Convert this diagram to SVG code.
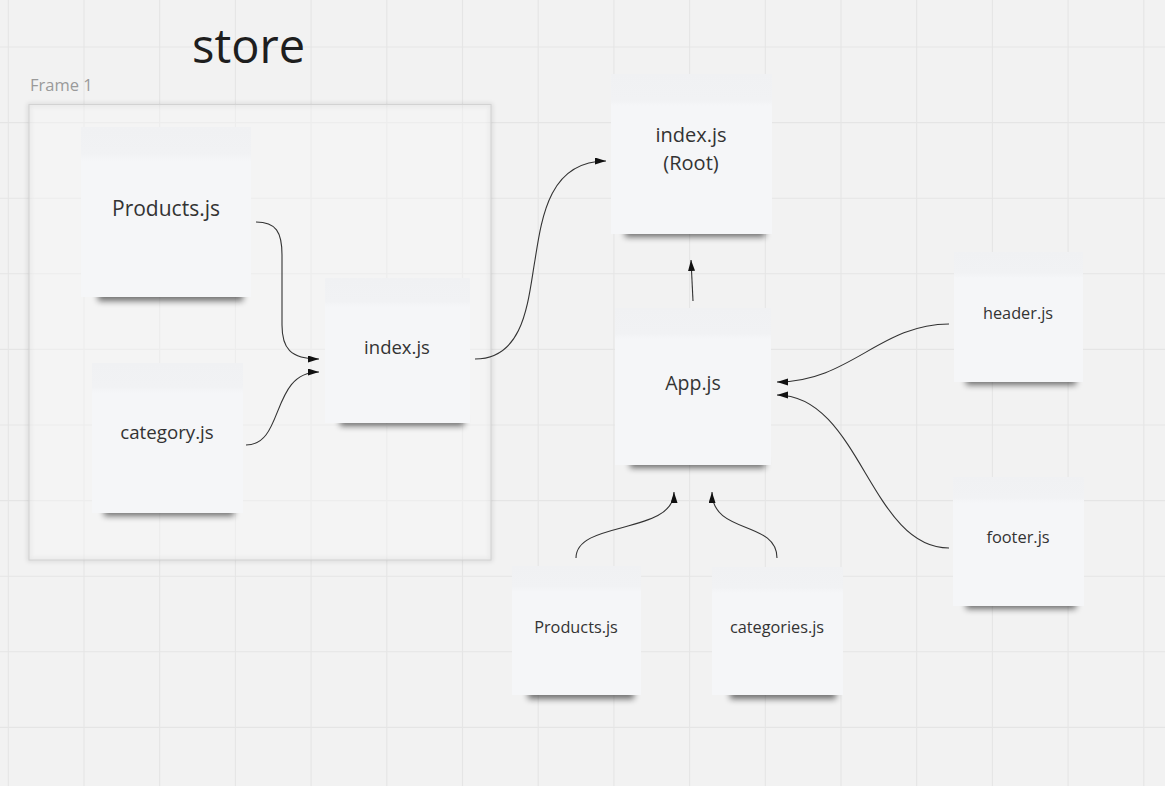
<svg xmlns="http://www.w3.org/2000/svg" width="1165" height="786" viewBox="0 0 1165 786">
<style>
.note{fill:url(#noteGrad)}
.shadow{fill:#000;opacity:.55;filter:url(#blur)}
.lbl{font-family:"Open Sans","Liberation Sans",sans-serif;fill:#333;text-anchor:middle}
.conn{fill:none;stroke:#333;stroke-width:1.1;marker-end:url(#arr)}
.grid{fill:none;stroke:#e5e5e5;stroke-width:1.1}
</style>
<defs>
<linearGradient id="noteGrad" x1="0" y1="0" x2="0" y2="1">
<stop offset="0" stop-color="#f0f1f3"/>
<stop offset="0.16" stop-color="#f1f2f4"/>
<stop offset="0.2" stop-color="#f5f6f8"/>
<stop offset="1" stop-color="#f5f6f8"/>
</linearGradient>
<filter id="blur" x="-20%" y="-100%" width="140%" height="300%"><feGaussianBlur stdDeviation="3"/></filter>
<filter id="fshadow" x="-5%" y="-5%" width="110%" height="110%"><feGaussianBlur stdDeviation="2"/></filter>
<marker id="arr" markerUnits="userSpaceOnUse" markerWidth="12" markerHeight="8" refX="11" refY="3.5" orient="auto">
<path d="M0,0 L11,3.5 L0,7 z" fill="#111"/>
</marker>
</defs>
<rect width="1165" height="786" fill="#f2f2f2"/>
<path class="grid" d="M8.3,0V786M84,0V786M159.7,0V786M235.4,0V786M311.1,0V786M386.8,0V786M462.5,0V786M538.2,0V786M613.9,0V786M689.6,0V786M765.3,0V786M841,0V786M916.7,0V786M992.4,0V786M1068.1,0V786M1143.8,0V786M0,47H1165M0,122.6H1165M0,198.2H1165M0,273.8H1165M0,349.4H1165M0,425H1165M0,500.6H1165M0,576.2H1165M0,651.8H1165M0,727.4H1165"/>

<g id="title">
<text x="192" y="63" font-family="'Open Sans','Liberation Sans',sans-serif" font-size="47" fill="#1e1e1e">store</text>
</g>

<g id="frame1">
<text x="30" y="91" font-family="'Open Sans','Liberation Sans',sans-serif" font-size="16.5" fill="#9a9a9a">Frame 1</text>
<rect x="29" y="105" width="462" height="455" fill="none" stroke="#000" stroke-opacity=".12" stroke-width="3" filter="url(#fshadow)"/>
<rect x="29" y="104.5" width="462" height="455.5" fill="#f6f6f6" fill-opacity=".45" stroke="#d2d2d2" stroke-width="1"/>
</g>

<g id="products-store">
<rect class="shadow" x="98" y="291" width="145" height="10"/>
<rect class="note" x="81" y="127" width="170" height="170"/>
<text class="lbl" x="166" y="216" font-size="21">Products.js</text>
</g>

<g id="category-store">
<rect class="shadow" x="104" y="506" width="130" height="10"/>
<rect class="note" x="92" y="363" width="151" height="150"/>
<text class="lbl" x="167" y="439" font-size="18.7">category.js</text>
</g>

<g id="index-store">
<rect class="shadow" x="340" y="416" width="124" height="10"/>
<rect class="note" x="325" y="278" width="145" height="145"/>
<text class="lbl" x="397" y="354" font-size="18.5">index.js</text>
</g>

<g id="index-root">
<rect class="shadow" x="625" y="227" width="140" height="10"/>
<rect class="note" x="611" y="74" width="161" height="160"/>
<text class="lbl" x="691" y="142" font-size="20">index.js</text>
<text class="lbl" x="691" y="170" font-size="20">(Root)</text>
</g>

<g id="app">
<rect class="shadow" x="630" y="458" width="135" height="10"/>
<rect class="note" x="615" y="308" width="156" height="157"/>
<text class="lbl" x="693" y="390" font-size="19.5">App.js</text>
</g>

<g id="header">
<rect class="shadow" x="966" y="375" width="110" height="10"/>
<rect class="note" x="954" y="252" width="129" height="130"/>
<text class="lbl" x="1018" y="319" font-size="16.3">header.js</text>
</g>

<g id="footer">
<rect class="shadow" x="966" y="599" width="110" height="10"/>
<rect class="note" x="953" y="477" width="131" height="129"/>
<text class="lbl" x="1018" y="543" font-size="16.4">footer.js</text>
</g>

<g id="products-bottom">
<rect class="shadow" x="528" y="689" width="106" height="10"/>
<rect class="note" x="512" y="566" width="129" height="129"/>
<text class="lbl" x="576" y="633" font-size="16.3">Products.js</text>
</g>

<g id="categories-bottom">
<rect class="shadow" x="730" y="689" width="106" height="10"/>
<rect class="note" x="712" y="567" width="131" height="128"/>
<text class="lbl" x="777" y="633" font-size="16.3">categories.js</text>
</g>

<g id="connectors">
<path class="conn" d="M256,222 C276,222 282,232 282,255 L282,325 C282,348 290,359 319,359"/>
<path class="conn" d="M246,445 C285,445 270,372 319,372"/>
<path class="conn" d="M475,359 C525,359 528,300 535,260 C542,215 550,161 606,161"/>
<path class="conn" d="M693,301 L691,260"/>
<path class="conn" d="M949,324 C880,324 850,382 777,382"/>
<path class="conn" d="M949,548 C870,548 860,395 777,395"/>
<path class="conn" d="M576,558 C576,520 674,535 674,492"/>
<path class="conn" d="M777,558 C777,520 712,535 712,492"/>
</g>
</svg>
